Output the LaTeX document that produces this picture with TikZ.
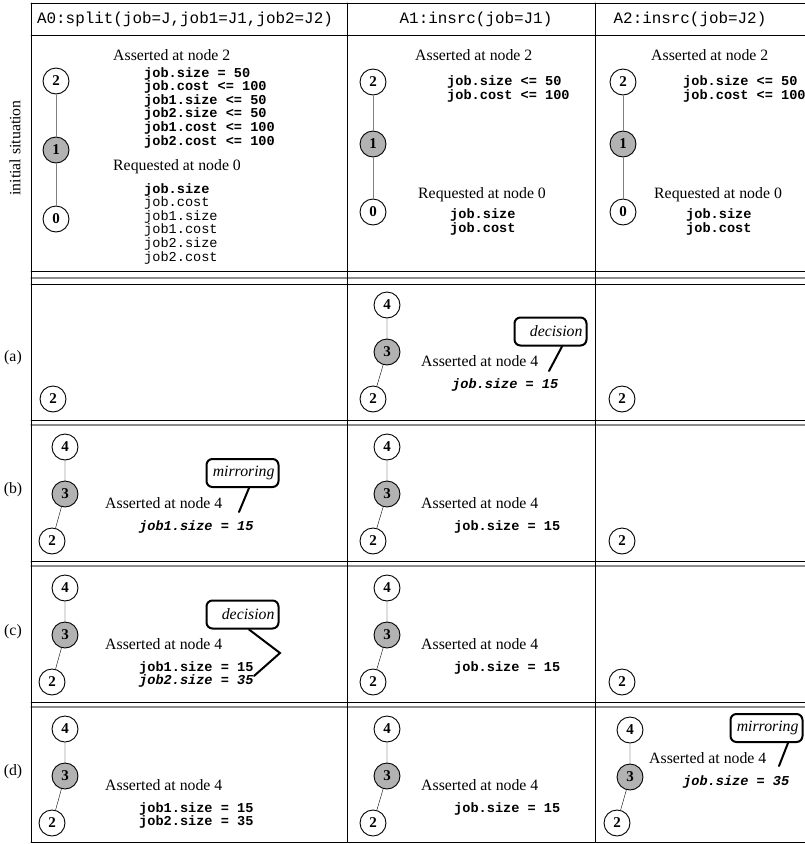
\documentclass[tikz,border=0pt]{standalone}
\usepackage{fontspec}
\setmainfont{Liberation Serif}
\setmonofont{Liberation Mono}
\usetikzlibrary{positioning}

\begin{document}
\begin{tikzpicture}[x=1pt,y=-1pt,line cap=round,
  rm/.style={font=\fontsize{15.8}{18}\selectfont,inner sep=0pt,anchor=base west},
  head/.style={font=\fontsize{15.9}{18}\selectfont\ttfamily,inner sep=0pt},
  cond/.style={font=\fontsize{13.6}{13.6}\selectfont\ttfamily\bfseries,inner sep=0pt,anchor=north west,align=left},
  st/.style={circle,draw,line width=0.9pt,fill=white,minimum size=26pt,inner sep=0pt,font=\fontsize{15}{15}\selectfont\bfseries},
  stgray/.style={st,fill=black!30},
  callout/.style={draw,line width=2pt,rounded corners=6pt,text width=64pt,align=right,inner xsep=4pt,minimum height=28pt,font=\fontsize{15.8}{18}\selectfont\itshape},
  pointer/.style={line width=2pt},
  tabline/.style={line width=0.9pt},
  tabgray/.style={line width=1.2pt,black!45}]
\useasboundingbox (0,0) rectangle (805,844);
% table
\draw[tabline] (31,3) -- (805,3);
\draw[tabline] (31,35) -- (805,35);
\draw[tabline] (31,271) -- (805,271);
\draw[tabgray] (31,278) -- (805,278);
\draw[tabline] (31,284) -- (805,284);
\foreach \y in {420,561,702}{
  \draw[tabline] (31,\y) -- (805,\y);
  \draw[tabgray] (31,\y+5) -- (805,\y+5);
}
\draw[tabline] (31,842) -- (805,842);
\foreach \x in {31,347,595} \draw[tabline] (\x,3) -- (\x,842);
% headers and row labels
\node[head] (h0) at (185,19) {A0:split(job=J,job1=J1,job2=J2)};
\node[head] (h1) at (476,19) {A1:insrc(job=J1)};
\node[head] (h2) at (690,19) {A2:insrc(job=J2)};
\node[rm,anchor=center,rotate=90] (ri) at (15,148) {initial situation};
\node[rm,anchor=center] (ra) at (13,358) {(a)};
\node[rm,anchor=center] (rb) at (13,490) {(b)};
\node[rm,anchor=center] (rc) at (13,632) {(c)};
\node[rm,anchor=center] (rd) at (13,772) {(d)};

% initial situation
\node[st] (i0n2) at (56,81) {2};
\node[stgray] (i0n1) at (56,150) {1};
\node[st] (i0n0) at (56,219) {0};
\draw[black!50] (i0n2) -- (i0n1) -- (i0n0);
\node[rm] (i0as) at (113,60) {Asserted at node 2};
\node[cond] (i0ac) at (144,67) {job.size = 50\\job.cost <= 100\\job1.size <= 50\\job2.size <= 50\\job1.cost <= 100\\job2.cost <= 100};
\node[rm] (i0rq) at (113,170) {Requested at node 0};
\node[cond] (i0rc) at (144,183) {job.size\\\mdseries job.cost\\\mdseries job1.size\\\mdseries job1.cost\\\mdseries job2.size\\\mdseries job2.cost};
\foreach \c/\x/\tx in {1/373/415,2/623/651}{
  \node[st] (i\c n2) at (\x,82) {2};
  \node[stgray] (i\c n1) at (\x,144) {1};
  \node[st] (i\c n0) at (\x,212) {0};
  \draw[black!50] (i\c n2) -- (i\c n1) -- (i\c n0);
  \node[rm] (i\c as) at (\tx,60) {Asserted at node 2};
  \node[cond] (i\c ac) at (\tx+32,75.5) {job.size <= 50\\job.cost <= 100};
  \node[rm] (i\c rq) at (\tx+3,198) {Requested at node 0};
  \node[cond] (i\c rc) at (\tx+35,208.5) {job.size\\job.cost};
}

% rows (a)-(d), agent A1
\foreach \r/\t in {a/284,b/426,c/567,d/708}{
  \node[st] (\r1n4) at (387,\t+21) {4};
  \node[stgray] (\r1n3) at (387,\t+68) {3};
  \node[st] (\r1n2) at (373,\t+115) {2};
  \draw (\r1n4) -- (\r1n3) -- (\r1n2);
  \node[rm] (\r1as) at (421,\t+82) {Asserted at node 4};
}
\node[cond] (a1ac) at (452,378) {\itshape job.size = 15};
\foreach \r/\t in {b/426,c/567,d/708}
  \node[cond] (\r1ac) at (454,\t+94) {job.size = 15};

% agent A0
\node[st] (a0n2) at (53,399) {2};
\foreach \r/\t in {b/426,c/567,d/708}{
  \node[st] (\r0n4) at (65,\t+21) {4};
  \node[stgray] (\r0n3) at (65,\t+68) {3};
  \node[st] (\r0n2) at (52,\t+115) {2};
  \draw (\r0n4) -- (\r0n3) -- (\r0n2);
  \node[rm] (\r0as) at (105,\t+82) {Asserted at node 4};
}
\node[cond] (b0ac) at (139,520) {\itshape job1.size = 15};
\node[cond] (c0ac) at (139,661) {job1.size = 15\\\itshape job2.size = 35};
\node[cond] (d0ac) at (139,802) {job1.size = 15\\job2.size = 35};

% agent A2
\foreach \r/\t in {a/284,b/426,c/567}
  \node[st] (\r2n2) at (622,\t+115) {2};
\node[st] (d2n4) at (630,730) {4};
\node[stgray] (d2n3) at (630,777) {3};
\node[st] (d2n2) at (617,823) {2};
\draw (d2n4) -- (d2n3) -- (d2n2);
\node[rm] (d2as) at (649,763) {Asserted at node 4};
\node[cond] (d2ac) at (683,775) {\itshape job.size = 35};

% callouts
\node[callout] (ca) at (550.5,331.5) {decision};
\coordinate (ca-tip) at (549,371);
\draw[pointer] ([xshift=11.5pt]ca.south) -- (ca-tip);
\node[callout] (cb) at (242.5,473) {mirroring};
\coordinate (cb-tip) at (239,512);
\draw[pointer] ([xshift=6.5pt]cb.south) -- (cb-tip);
\node[callout] (cc) at (242.5,614.5) {decision};
\coordinate (cc-bend) at (280,653);
\coordinate (cc-tip) at (254,676);
\draw[pointer] ([xshift=6.5pt]cc.south) -- (cc-bend) -- (cc-tip);
\node[callout] (cd) at (766.5,728) {mirroring};
\coordinate (cd-tip) at (779,766);
\draw[pointer] ([xshift=21.5pt]cd.south) -- (cd-tip);
\end{tikzpicture}
\end{document}
